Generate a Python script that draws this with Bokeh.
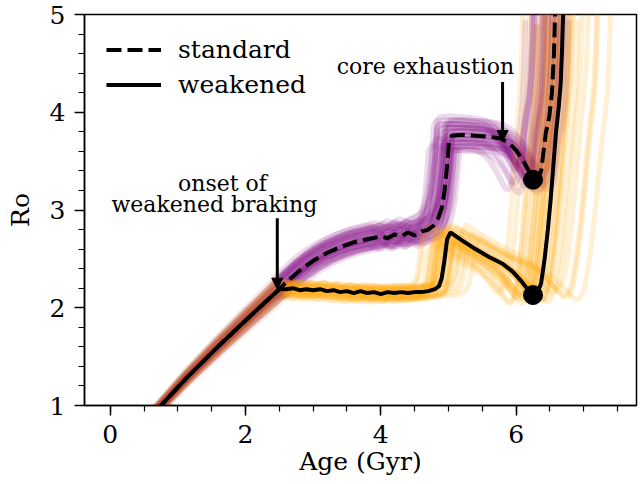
import numpy as np
from bokeh.plotting import figure
from bokeh.models import (Range1d, SingleIntervalTicker, Arrow, NormalHead,
                          Legend, LegendItem)
from bokeh.embed import file_html
from bokeh.resources import INLINE
from bokeh.core.properties import value

# ---------------- data ----------------
# common early spin-down (before onset of weakened braking at 2.5 Gyr)
early_age = [0.45, 0.75, 1.14, 1.59, 2.0, 2.5]
early_ro = [0.78, 1.00, 1.29, 1.60, 1.87, 2.19]

# standard braking median track (after 2.5 Gyr)
std_age = [2.5, 2.6, 2.7, 2.8, 2.9, 3.0, 3.2, 3.4, 3.6, 3.8, 4.0, 4.1, 4.2, 4.3,
           4.4, 4.5, 4.6, 4.7, 4.78, 4.85, 4.90, 4.94, 4.98, 5.01, 5.05, 5.2,
           5.4, 5.6, 5.78, 5.9, 6.0, 6.1, 6.18, 6.25, 6.31, 6.37, 6.41, 6.44,
           6.49, 6.53, 6.56, 6.58]
std_ro = [2.19, 2.26, 2.32, 2.38, 2.43, 2.48, 2.56, 2.62, 2.67, 2.70, 2.73, 2.71,
          2.75, 2.73, 2.77, 2.74, 2.78, 2.80, 2.84, 2.92, 3.02, 3.18, 3.45, 3.72,
          3.76, 3.77, 3.76, 3.75, 3.73, 3.68, 3.61, 3.51, 3.41, 3.32, 3.31, 3.40,
          3.62, 3.79, 3.95, 4.20, 4.60, 5.10]

# weakened braking median track (after 2.5 Gyr)
weak_age = [2.5, 2.6, 2.7, 2.8, 2.9, 3.0, 3.1, 3.2, 3.3, 3.4, 3.5, 3.6, 3.7, 3.8,
            3.9, 4.0, 4.1, 4.2, 4.3, 4.4, 4.5, 4.6, 4.7, 4.8, 4.86, 4.90, 4.94,
            4.98, 5.03, 5.2, 5.4, 5.6, 5.8, 5.95, 6.08, 6.18, 6.25, 6.31, 6.37,
            6.42, 6.47, 6.51, 6.55, 6.59, 6.63, 6.66, 6.68, 6.70]
weak_ro = [2.19, 2.19, 2.20, 2.18, 2.19, 2.18, 2.19, 2.17, 2.18, 2.16, 2.17, 2.15,
           2.17, 2.15, 2.16, 2.14, 2.16, 2.15, 2.16, 2.15, 2.16, 2.16, 2.17, 2.19,
           2.22, 2.30, 2.48, 2.70, 2.77, 2.69, 2.60, 2.52, 2.45, 2.37, 2.27, 2.18,
           2.13, 2.14, 2.25, 2.49, 2.80, 3.10, 3.45, 3.79, 4.05, 4.30, 4.65, 5.10]

# ensemble spread of the faint tracks: early-age factor, late-age stretch, Ro factor
purple_e = [1.03, 0.97, 1.01, 0.98, 1.04, 0.99, 0.96, 1.02, 1.00, 0.97,
            1.03, 0.98, 1.01, 0.99, 1.04, 0.96, 1.02, 1.00, 0.98, 1.03,
            0.99, 1.01, 0.97, 1.02, 1.00, 0.98, 1.03, 0.99, 1.01, 0.97]
purple_k = [0.90, 0.91, 0.92, 0.93, 0.94, 0.94, 0.95, 0.95, 0.96, 0.96,
            0.97, 0.97, 0.97, 0.98, 0.98, 0.98, 0.99, 0.99, 0.99, 1.00,
            1.00, 1.00, 1.01, 1.01, 1.02, 1.02, 1.03, 1.03, 1.04, 1.05]
purple_s = [1.03, 0.97, 1.05, 0.99, 1.02, 0.96, 1.04, 1.00, 0.98, 1.03,
            0.97, 1.01, 1.04, 0.99, 0.96, 1.02, 1.00, 0.98, 1.03, 0.97,
            1.01, 0.99, 1.02, 0.98, 1.00, 1.04, 0.97, 1.01, 0.99, 1.02]

orange_e = [0.98, 1.02, 0.97, 1.03, 1.00, 0.96, 1.01, 1.04, 0.99, 0.97,
            1.02, 1.00, 0.98, 1.03, 0.96, 1.01, 0.99, 1.04, 0.97, 1.02,
            1.00, 0.98, 1.01, 0.99, 1.03, 0.97, 1.00, 1.02, 0.98, 1.01]
orange_k = [0.87, 0.89, 0.90, 0.91, 0.92, 0.93, 0.94, 0.95, 0.95, 0.96,
            0.96, 0.97, 0.97, 0.98, 0.98, 0.99, 0.99, 1.00, 1.00, 1.01,
            1.01, 1.02, 1.03, 1.04, 1.05, 1.07, 1.09, 1.11, 1.13, 1.16]
orange_s = [1.01, 0.97, 1.03, 0.99, 1.02, 0.96, 1.00, 1.03, 0.98, 1.01,
            0.97, 1.02, 0.99, 1.03, 0.96, 1.00, 1.02, 0.98, 1.01, 0.97,
            1.00, 0.99, 1.02, 0.98, 1.01, 0.97, 1.03, 0.99, 1.00, 0.98]

# core exhaustion points
exhaust_age = [6.25, 6.25]
exhaust_ro = [3.31, 2.13]

# annotations
ann_text = ["onset of", "weakened braking", "core exhaustion"]
ann_x = [1.66, 1.54, 4.66]
ann_y = [3.275, 3.055, 4.47]
arrow_x = [2.47, 5.80]
arrow_y0 = [2.915, 4.31]
arrow_y1 = [2.19, 3.70]

# ---------------- figure ----------------
FONT = "DejaVu Serif"

p = figure(width=641, height=484, output_backend="svg",
           toolbar_location=None, x_range=Range1d(-0.38, 7.78),
           y_range=Range1d(1, 5), min_border_left=84, min_border_top=14,
           min_border_right=5, min_border_bottom=79)
p.background_fill_color = "white"
p.border_fill_color = "white"
p.grid.visible = False
p.outline_line_color = "black"
p.outline_line_width = 1.5
p.outline_line_alpha = 1


def member(ages, ros, e, k, s):
    t = np.asarray(ages, dtype=float)
    r = np.asarray(ros, dtype=float)
    t2 = np.where(t <= 2.5, t * e, 2.5 * e + (t - 2.5) * k)
    return list(t2), list(r * s)


early_xs, early_ys = [], []
pur_xs, pur_ys = [], []
for e, k, s in zip(purple_e, purple_k, purple_s):
    x, y = member(early_age, early_ro, e, k, s)
    early_xs.append(x); early_ys.append(y)
    x, y = member(std_age, std_ro, e, k, s)
    pur_xs.append(x); pur_ys.append(y)
org_xs, org_ys = [], []
for e, k, s in zip(orange_e, orange_k, orange_s):
    x, y = member(early_age, early_ro, e, k, s)
    early_xs.append(x); early_ys.append(y)
    x, y = member(weak_age, weak_ro, e, k, s)
    org_xs.append(x); org_ys.append(y)

p.multi_line(pur_xs, pur_ys, line_color="#800080", line_alpha=0.14, line_width=6)
p.multi_line(org_xs, org_ys, line_color="#FFA500", line_alpha=0.17, line_width=5)
p.multi_line(early_xs, early_ys, line_color="#bb4a2e", line_alpha=0.09, line_width=6)

std_full_age = early_age + std_age[1:]
std_full_ro = early_ro + std_ro[1:]
weak_full_age = early_age + weak_age[1:]
weak_full_ro = early_ro + weak_ro[1:]

r_weak = p.line(weak_full_age, weak_full_ro, line_color="black", line_width=4)
r_std = p.line(std_full_age, std_full_ro, line_color="black", line_width=4,
               line_dash="15 6")
p.scatter(exhaust_age, exhaust_ro, size=19, color="black")

for ax_x, y0, y1 in zip(arrow_x, arrow_y0, arrow_y1):
    p.add_layout(Arrow(end=NormalHead(size=11, fill_color="black", line_color="black"),
                       x_start=ax_x, y_start=y0, x_end=ax_x, y_end=y1,
                       line_width=3, line_color="black"))

p.text(x=ann_x, y=ann_y, text=ann_text, text_font=value(FONT),
       text_font_size="22px", text_align="center", text_baseline="middle",
       text_color="black")

legend = Legend(items=[LegendItem(label="standard", renderers=[r_std]),
                       LegendItem(label="weakened", renderers=[r_weak])],
                location=(22, 306), orientation="vertical")
legend.label_text_font = FONT
legend.label_text_font_size = "25px"
legend.label_text_color = "black"
legend.glyph_width = 55
legend.glyph_height = 29
legend.label_height = 29
legend.label_standoff = 17
legend.spacing = 6
legend.padding = 0
legend.margin = 0
legend.background_fill_alpha = 0
legend.border_line_alpha = 0
p.add_layout(legend)

# axes
for ax in (p.xaxis[0], p.yaxis[0]):
    ax.major_label_text_font = FONT
    ax.major_label_text_font_size = "25px"
    ax.axis_label_text_font = FONT
    ax.axis_label_text_font_size = "25px"
    ax.axis_label_text_font_style = "normal"
    ax.major_tick_in = 0
    ax.major_tick_out = 10
    ax.minor_tick_in = 0
    ax.minor_tick_out = 6
    ax.major_tick_line_width = 1.5
    ax.minor_tick_line_width = 1.2
    ax.axis_line_width = 1.5
    ax.major_label_text_color = "black"
    ax.axis_label_text_color = "black"

p.xaxis.ticker = SingleIntervalTicker(interval=2, num_minor_ticks=4)
p.yaxis.ticker = SingleIntervalTicker(interval=1, num_minor_ticks=5)
p.xaxis.axis_label = "Age (Gyr)"
p.yaxis.axis_label = "Ro"
p.xaxis.major_label_standoff = 9
p.yaxis.major_label_standoff = 9
p.xaxis.axis_label_standoff = 1
p.yaxis.axis_label_standoff = 12

open("out.html", "w").write(file_html(p, INLINE))
